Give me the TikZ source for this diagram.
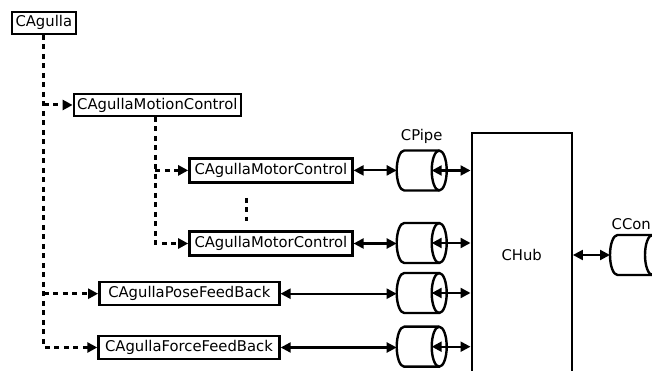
\documentclass[tikz,border=0pt]{standalone}
\usepackage{fontspec}
\setmainfont{DejaVu Sans}
\usetikzlibrary{arrows.meta,calc}

% outline of a horizontal pipe drawn inside an invisible node #1
\newcommand\pipeoutline[1]{%
  \draw[pipeline] ([xshift=7.5pt]#1.north west) -- ([xshift=-7.5pt]#1.north east)
     arc[start angle=90,end angle=-90,x radius=7.5pt,y radius=20pt]
     -- ([xshift=7.5pt]#1.south west)
     arc[start angle=270,end angle=90,x radius=7.5pt,y radius=20pt] -- cycle;
  \draw[pipeline] ([xshift=-7.5pt]#1.north east)
     arc[start angle=90,end angle=270,x radius=7.5pt,y radius=20pt];
  \coordinate (#1-in) at ([xshift=-15pt]#1.east);
}

\tikzset{
  txt/.style={font=\fontsize{14.8}{16}\selectfont},
  box/.style={txt, draw, line width=2.4pt, inner sep=0pt, minimum height=23pt},
  hub/.style={txt, draw, line width=2.4pt, inner sep=0pt, minimum width=100pt, minimum height=243.4pt},
  pipe/.style={inner sep=0pt, outer sep=0pt, minimum width=50pt, minimum height=40pt},
  pipeline/.style={line width=2.4pt, line join=round},
  dotline/.style={line width=3pt, dash pattern=on 5pt off 4.5pt},
  dotarrow/.style={dotline, -{Triangle[length=10pt,width=10pt]}},
  biarrow/.style={line width=2.2pt, {Triangle[length=10pt,width=10pt]}-{Triangle[length=10pt,width=10pt]}},
}

\begin{document}
\begin{tikzpicture}[x=1pt,y=1pt]
\useasboundingbox (0,0) rectangle (652,371);
\clip (0,0) rectangle (652,371);

% component boxes
\node[box, minimum width=64pt, minimum height=22pt] (agulla) at (43.8,348.2) {CAgulla};
\node[box, minimum width=167pt, minimum height=21.5pt] (motion) at (157.3,266) {CAgullaMotionControl};
\node[box, minimum width=163pt, minimum height=24pt] (motor1) at (270.9,200.6) {CAgullaMotorControl};
\node[box, minimum width=163pt, minimum height=24pt] (motor2) at (270.9,127.5) {CAgullaMotorControl};
\node[box, minimum width=180pt] (pose) at (189.3,77.3) {CAgullaPoseFeedBack};
\node[box, minimum width=181pt] (force) at (189,23.5) {CAgullaForceFeedBack};

% hub
\node[hub] (chub) at (521.7,116) {CHub};

% pipes
\node[pipe] (p1) at (421.7,200.5) {};
\node[pipe] (p2) at (421.7,128) {};
\node[pipe] (p3) at (421.7,78) {};
\node[pipe] (p4) at (421.7,24.3) {};
\node[pipe] (pc) at (635,116) {};
\pipeoutline{p1}
\pipeoutline{p2}
\pipeoutline{p3}
\pipeoutline{p4}
\pipeoutline{pc}
\node[txt, anchor=south] (lpipe) at ([yshift=3pt]p1.north) {CPipe};
\node[txt, anchor=south east, inner sep=0pt] (lconn) at ([xshift=16pt,yshift=5pt]pc.north) {CCon};

% ownership tree (dashed)
\draw[dotarrow] (agulla.south) -- (agulla.south |- force.west) -- (force.west);
\draw[dotarrow] (agulla.south |- motion.west) -- (motion.west);
\draw[dotarrow] (agulla.south |- pose.west) -- (pose.west);
\draw[dotarrow] ([xshift=-2pt]motion.south) -- ([xshift=-2pt]motion.south |- motor2.west) -- (motor2.west);
\draw[dotarrow] ([xshift=-2pt]motion.south |- motor1.west) -- (motor1.west);
\coordinate (vd1) at (246.7,173);
\coordinate (vd2) at (246.7,150);
\draw[dotline] (vd1) -- (vd2);

% data links
\draw[biarrow] (motor1.east) -- (motor1.east -| p1.west);
\draw[biarrow] (motor2.east) -- (motor2.east -| p2.west);
\draw[biarrow] (pose.east) -- (pose.east -| p3.west);
\draw[biarrow] (force.east) -- (force.east -| p4.west);
\draw[biarrow] (p1-in) -- (p1-in -| chub.west);
\draw[biarrow] (p2-in) -- (p2-in -| chub.west);
\draw[biarrow] (p3-in) -- (p3-in -| chub.west);
\draw[biarrow] (p4-in) -- (p4-in -| chub.west);
\draw[biarrow] (chub.east) -- (pc.west);
\end{tikzpicture}
\end{document}
